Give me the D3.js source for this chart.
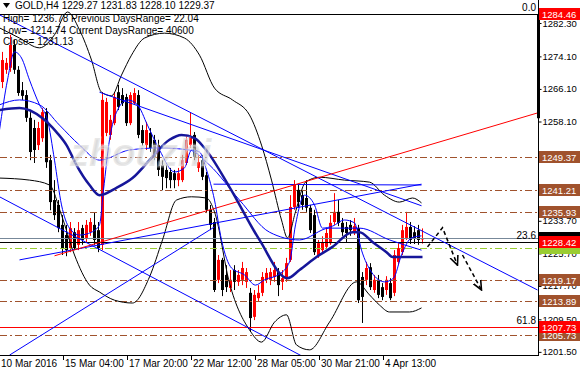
<!DOCTYPE html>
<html>
<head>
<meta charset="utf-8">
<script src="https://cdn.jsdelivr.net/npm/d3@7"></script>
<style>
  body { margin: 0; background: #fff; }
  svg { display: block; font-family: "Liberation Sans", Arial, sans-serif; }
</style>
</head>
<body>
<svg id="chart" width="580" height="376"></svg>
<script>
// ---- data (GOLD, H4) ----
const opens = [1267.8,1270.8,1271.3,1276.9,1270.8,1265.8,1264.6,1259.0,1256.5,1252.3,
  1254.0,1260.4,1248.6,1238.8,1237.6,1232.7,1230.2,1227.0,1230.9,1227.8,
  1231.9,1229.5,1230.9,1232.7,1231.4,1227.8,1255.3,1254.8,1257.7,1265.3,
  1264.6,1264.1,1257.7,1262.6,1264.6,1256.0,1252.3,1255.3,1253.6,1252.3,
  1247.4,1246.2,1245.7,1245.4,1243.7,1243.7,1247.9,1252.3,1254.8,1246.7,
  1248.6,1244.9,1236.4,1233.4,1219.2,1224.1,1220.4,1217.2,1221.6,1218.7,
  1219.2,1218.7,1216.0,1210.1,1214.7,1216.0,1219.2,1219.2,1219.9,1221.1,
  1218.7,1219.6,1224.1,1237.1,1241.3,1240.0,1239.3,1236.9,1235.1,1225.3,
  1226.5,1227.3,1228.2,1233.4,1235.9,1233.2,1232.2,1232.7,1230.9,1231.9,
  1219.9,1219.2,1222.3,1216.7,1219.2,1217.4,1216.7,1218.4,1216.0,1223.6,
  1226.0,1229.5,1232.2,1230.9,1231.4,1229.27];
const highs = [1275.2,1273.7,1279.4,1278.1,1271.7,1267.8,1265.8,1260.4,1258.5,1258.0,
  1261.4,1261.4,1249.9,1243.7,1238.8,1235.1,1232.7,1233.4,1231.9,1233.4,
  1232.7,1233.9,1234.4,1235.8,1233.4,1265.3,1263.9,1259.7,1265.3,1267.1,
  1266.3,1264.9,1265.3,1266.3,1265.8,1257.2,1258.0,1256.5,1254.8,1253.6,
  1248.6,1247.4,1246.7,1246.2,1246.7,1249.9,1254.8,1260.4,1255.5,1249.9,
  1249.9,1245.7,1237.6,1234.4,1225.3,1224.6,1222.8,1221.6,1222.8,1221.6,
  1223.6,1222.1,1217.2,1216.7,1217.9,1221.1,1222.1,1222.1,1223.6,1222.1,
  1221.6,1224.6,1240.0,1243.7,1242.5,1241.3,1243.7,1237.6,1236.4,1229.0,
  1229.9,1231.9,1235.1,1240.5,1238.8,1234.4,1233.4,1233.9,1234.4,1232.7,
  1221.1,1223.6,1223.3,1220.4,1220.4,1218.4,1220.1,1219.6,1226.5,1228.2,
  1232.7,1235.9,1233.4,1232.4,1232.7,1231.83];
const lows = [1266.3,1269.8,1270.3,1269.8,1264.4,1263.4,1258.0,1248.6,1247.9,1251.1,
  1253.1,1246.7,1236.3,1233.9,1230.9,1225.3,1225.0,1226.0,1226.5,1226.5,
  1227.8,1228.5,1230.0,1227.8,1226.0,1226.5,1254.5,1253.6,1257.2,1260.9,
  1261.9,1257.0,1257.2,1262.2,1254.0,1252.1,1251.1,1250.6,1248.6,1244.7,
  1241.2,1241.7,1241.7,1241.7,1242.2,1243.2,1247.4,1251.6,1248.6,1245.7,
  1243.7,1235.6,1231.4,1216.2,1218.4,1215.2,1216.2,1216.2,1216.7,1217.7,
  1217.9,1217.2,1206.4,1209.3,1213.8,1215.2,1218.4,1217.9,1218.7,1215.2,
  1216.7,1218.7,1223.6,1236.4,1236.9,1236.4,1235.9,1230.7,1225.3,1224.6,
  1225.8,1226.8,1227.8,1232.7,1232.4,1230.0,1228.5,1230.0,1230.2,1213.5,
  1208.6,1217.9,1216.7,1216.0,1214.7,1214.2,1215.5,1214.2,1215.2,1222.8,
  1225.3,1229.0,1228.0,1228.0,1227.8,1228.10];
const closes = [1273.2,1272.5,1276.9,1270.8,1265.1,1264.4,1259.0,1250.6,1251.1,1256.5,
  1260.4,1248.1,1238.3,1235.1,1231.9,1227.0,1226.5,1231.9,1227.0,1231.4,
  1229.0,1232.7,1233.4,1229.0,1227.0,1263.4,1262.9,1258.5,1264.1,1261.7,
  1262.6,1257.7,1264.6,1265.1,1254.8,1252.8,1256.0,1251.6,1249.4,1246.2,
  1244.5,1244.2,1243.7,1243.7,1245.4,1248.6,1253.6,1254.3,1249.4,1248.1,
  1244.5,1236.4,1232.7,1216.7,1224.1,1216.7,1217.4,1219.2,1218.7,1220.4,
  1222.1,1221.1,1209.8,1215.5,1216.0,1219.9,1220.9,1221.1,1221.6,1217.9,
  1219.6,1223.3,1237.1,1242.5,1238.3,1237.6,1236.9,1231.4,1226.0,1228.2,
  1228.5,1230.7,1233.2,1235.9,1233.2,1230.9,1230.7,1231.4,1232.4,1214.2,
  1215.0,1222.1,1217.4,1219.2,1215.5,1215.0,1219.2,1214.7,1225.3,1227.0,
  1231.4,1232.2,1229.0,1229.5,1229.0,1229.37];

const xTickBars = [0, 16, 32, 48, 64, 80, 96];
const xTickLabels = ["10 Mar 2016", "15 Mar 04:00", "17 Mar 20:00", "22 Mar 12:00",
  "28 Mar 05:00", "30 Mar 21:00", "4 Apr 13:00"];
const yTickValues = [1282.30, 1274.10, 1266.10, 1258.10, 1233.70, 1225.70, 1217.70, 1209.50, 1201.50];

// horizontal objects
const levelPrices = [1249.37, 1241.21, 1235.93, 1219.17, 1213.89, 1205.73];
const fibPrices = [1284.46, 1228.42, 1207.73];
const fibNames = ["0.0", "23.6", "61.8"];
const bidPrice = 1229.37;
const greenPrice = 1227.00;

// indicators, [bar, price] read at sample bars
const bbUpper = [[-0.5,1281.1],[4.5,1278.6],[9.5,1276.2],[13.25,1279.4],[16.5,1285.0],[19.5,1280.6],
  [22.5,1273.2],[25,1265.3],[27.5,1264.4],[30,1269.5],[32.5,1274.4],[35.75,1278.6],[40.75,1279.8],
  [45.75,1278.6],[49.5,1274.4],[53.25,1266.3],[57.75,1263.4],[62,1259.7],[65,1252.3],[67.5,1243.7],
  [70,1233.9],[71.5,1229.5],[73.5,1235.9],[76,1243.2],[79.5,1244.4],[85.75,1243.7],[92,1243.2],
  [95.75,1240.0],[99.5,1238.3],[102.75,1239.3],[105,1238.1]];
const bbLower = [[-0.5,1244.2],[7,1243.7],[12,1242.5],[15,1235.1],[18.25,1225.3],[22,1217.9],
  [24.5,1216.2],[28.25,1214.2],[32.75,1213.5],[37,1219.9],[40.25,1229.0],[43.75,1238.8],[47.5,1239.6],
  [51.25,1239.3],[53.25,1235.9],[57,1218.4],[62,1206.9],[65,1203.9],[68.25,1208.8],[71.25,1210.6],
  [73.75,1203.2],[77,1202.0],[82,1208.8],[88.75,1218.7],[92,1215.5],[94.5,1213.0],[97,1211.3],
  [102,1211.3],[105,1212.3]];
const maSlow = [[-0.5,1260.9],[4.5,1261.4],[10.25,1258.9],[13.75,1255.5],[16.25,1252.3],[18.75,1247.4],
  [22,1242.5],[24.5,1240.0],[28.75,1241.8],[32.75,1244.2],[37,1248.6],[42,1253.6],[45,1254.8],
  [48.25,1254.0],[50.75,1251.6],[57,1242.0],[64.5,1229.0],[71.5,1219.6],[74.5,1221.6],[78.75,1224.8],
  [82.75,1227.3],[87.75,1230.9],[89.5,1230.9],[92.75,1228.5],[96.25,1226.0],[97.75,1224.8],[105.25,1224.8]];
const maMid = [[-0.5,1262.2],[4.5,1263.4],[9.5,1262.2],[14.5,1257.2],[19.5,1252.3],[24.5,1248.6],
  [32,1251.1],[39.5,1251.6],[47,1251.1],[52,1247.4],[59.5,1238.8],[67,1230.9],[74.5,1229.0],
  [82,1231.9],[89.5,1231.9],[97,1229.0],[105,1226.5]];
const maFast = [[-0.5,1256.0],[1.5,1268.3],[3.25,1275.2],[5,1273.7],[7,1268.3],[9.5,1262.2],[11.5,1258.5],
  [13.25,1248.6],[15,1237.6],[17,1231.9],[19.5,1230.2],[22.5,1230.9],[24.5,1232.7],[25.5,1241.3],
  [27,1253.6],[29,1260.9],[31.5,1263.4],[34,1262.2],[36.5,1257.2],[39.5,1251.1],[43.25,1245.7],
  [45.75,1246.7],[47.5,1251.1],[49.5,1250.6],[51.25,1246.2],[53.25,1238.8],[55,1229.0],[57.5,1222.1],
  [60.75,1220.4],[63.5,1217.9],[65.75,1219.2],[69.5,1220.6],[72,1223.6],[73.5,1232.7],[75.75,1240.0],
  [78.25,1237.6],[80.25,1231.9],[82.75,1232.4],[85.75,1233.9],[88.25,1233.2],[90,1226.5],[92.5,1221.1],
  [95.75,1218.7],[98,1219.6],[100,1225.3],[102.5,1229.5],[105,1230.0]];

// trend lines, [bar, price] end points
const blueTrends = [
  [[-0.5,1284.3],[134,1216.7]],
  [[-0.5,1239.6],[134,1170.0]],
  [[2,1200.7],[53.25,1232.2]],
  [[4.5,1224.1],[105,1242.7]],
  [[24.5,1265.3],[105,1237.4]],
  [[53,1242.7],[105,1242.5]]
];
const redTrend = [[13.25,1225.1],[134,1260.2]];
const arrowPaths = [
  [[106.5,1227.3],[110.25,1232.0],[114,1222.8]],
  [[115.25,1225.3],[120,1216.7]]
];

// ---- drawing ----
const W = 580, H = 376;
const plotW = 538, plotH = 355;
const svg = d3.select('#chart');

const x = d3.scaleLinear().domain([0, 1]).range([1.5, 5.5]);
const y = d3.scaleLinear().domain([1200.73, 1287.95]).range([plotH, 0]);

svg.append('rect').attr('width', W).attr('height', H).attr('fill', '#fff');

svg.append('clipPath').attr('id', 'plotclip')
  .append('rect').attr('width', plotW).attr('height', plotH);

const plot = svg.append('g').attr('clip-path', 'url(#plotclip)');

const bars = opens.map((o, i) => ({i: i, o: o, h: highs[i], l: lows[i], c: closes[i]}));
const colorOf = d => d.c >= d.o ? '#ff0000' : '#000000';

// candles
plot.selectAll('.wick').data(bars).join('line')
  .attr('class', 'wick')
  .attr('x1', d => Math.round(x(d.i)) + 0.5)
  .attr('x2', d => Math.round(x(d.i)) + 0.5)
  .attr('y1', d => y(d.h))
  .attr('y2', d => y(d.l))
  .attr('stroke', colorOf)
  .attr('stroke-width', 1);

plot.selectAll('.body').data(bars).join('rect')
  .attr('class', 'body')
  .attr('x', d => Math.round(x(d.i)) - 1)
  .attr('width', 3)
  .attr('y', d => y(Math.max(d.o, d.c)))
  .attr('height', d => Math.max(1, Math.abs(y(d.o) - y(d.c))))
  .attr('fill', colorOf);

// horizontal levels
plot.selectAll('.level').data(levelPrices).join('line')
  .attr('x1', 0).attr('x2', plotW)
  .attr('y1', d => Math.round(y(d)) + 0.5)
  .attr('y2', d => Math.round(y(d)) + 0.5)
  .attr('stroke', '#a0522d')
  .attr('stroke-dasharray', '7,3,2,3');

plot.append('line')
  .attr('x1', 0).attr('x2', plotW)
  .attr('y1', Math.round(y(bidPrice)) + 0.5).attr('y2', Math.round(y(bidPrice)) + 0.5)
  .attr('stroke', '#778899');

plot.append('line')
  .attr('x1', 0).attr('x2', plotW)
  .attr('y1', Math.round(y(greenPrice)) + 0.5).attr('y2', Math.round(y(greenPrice)) + 0.5)
  .attr('stroke', '#9acd32')
  .attr('stroke-dasharray', '7,3,2,3');

plot.selectAll('.fib').data(fibPrices).join('line')
  .attr('x1', 0).attr('x2', plotW)
  .attr('y1', d => Math.round(y(d)) + 0.5)
  .attr('y2', d => Math.round(y(d)) + 0.5)
  .attr('stroke', (d, i) => i == 2 ? '#ff0000' : '#000000');

// indicator lines
const curve = d3.line().x(d => x(d[0])).y(d => y(d[1])).curve(d3.curveMonotoneX);
const straight = d3.line().x(d => x(d[0])).y(d => y(d[1]));

[bbUpper, bbLower].forEach(pts => {
  plot.append('path').attr('d', curve(pts))
    .attr('fill', 'none').attr('stroke', '#000').attr('stroke-width', 1);
});

plot.selectAll('.trend').data(blueTrends).join('path')
  .attr('d', straight)
  .attr('fill', 'none').attr('stroke', '#0000ff').attr('stroke-width', 1);

plot.append('path').attr('d', straight(redTrend))
  .attr('fill', 'none').attr('stroke', '#ff0000').attr('stroke-width', 1);

[maMid, maFast].forEach(pts => {
  plot.append('path').attr('d', curve(pts))
    .attr('fill', 'none').attr('stroke', '#0000ff').attr('stroke-width', 1);
});

plot.append('path').attr('d', curve(maSlow))
  .attr('fill', 'none').attr('stroke', '#16169a').attr('stroke-width', 2.5);

// projected path
svg.append('defs').append('marker')
  .attr('id', 'arrow').attr('viewBox', '0 0 10 10')
  .attr('refX', 9).attr('refY', 5)
  .attr('markerWidth', 7).attr('markerHeight', 7)
  .attr('orient', 'auto')
  .append('path').attr('d', 'M0,1 L9,5 L0,9').attr('fill', 'none').attr('stroke', '#000').attr('stroke-width', 1.5);

plot.selectAll('.arrow').data(arrowPaths).join('path')
  .attr('d', straight)
  .attr('fill', 'none').attr('stroke', '#000').attr('stroke-width', 1.5)
  .attr('stroke-dasharray', '4,3')
  .attr('marker-end', 'url(#arrow)');

// watermark
plot.append('text')
  .attr('x', 70).attr('y', 166)
  .attr('font-size', 38).attr('font-weight', 'bold').attr('font-style', 'italic')
  .attr('fill', '#c8c8c8').attr('fill-opacity', 0.65)
  .attr('stroke', '#ffffff').attr('stroke-opacity', 0.35).attr('stroke-width', 3)
  .text('zhouzhi');

// fib labels
svg.selectAll('.fibname').data(fibNames).join('text')
  .attr('x', plotW - 2).attr('y', (d, i) => y(fibPrices[i]) - 3)
  .attr('text-anchor', 'end').attr('font-size', 10).attr('fill', '#000')
  .text(d => d);

// axes frame
svg.append('line').attr('x1', plotW + 0.5).attr('x2', plotW + 0.5).attr('y1', 0).attr('y2', plotH + 1)
  .attr('stroke', '#000');
svg.append('line').attr('x1', plotW + 0.5).attr('x2', plotW + 0.5).attr('y1', y(fibPrices[0])).attr('y2', y(1258.9))
  .attr('stroke', '#000').attr('stroke-width', 3);
svg.append('line').attr('x1', 0).attr('x2', plotW + 1).attr('y1', plotH + 0.5).attr('y2', plotH + 0.5)
  .attr('stroke', '#000');

// right price axis
const yAxis = d3.axisRight(y).tickValues(yTickValues).tickSize(3).tickPadding(1)
  .tickFormat(d => d.toFixed(2));
svg.append('g').attr('transform', `translate(${plotW + 0.5},0)`)
  .call(yAxis)
  .call(g => g.select('.domain').remove())
  .call(g => g.selectAll('text').attr('font-size', 9.5).attr('font-family', '"Liberation Sans", Arial, sans-serif').attr('fill', '#000'));

// bottom time axis
const xAxisG = svg.append('g');
xAxisG.selectAll('.xt').data(xTickBars).join('line')
  .attr('x1', d => Math.round(x(d)) - 2.5).attr('x2', d => Math.round(x(d)) - 2.5)
  .attr('y1', plotH).attr('y2', plotH + 5).attr('stroke', '#000');
xAxisG.selectAll('.xl').data(xTickBars).join('text')
  .attr('x', d => Math.round(x(d)) - 1)
  .attr('y', plotH + 12)
  .attr('font-size', 10).attr('fill', '#000')
  .text((d, i) => xTickLabels[i]);

// price tags on the right
function priceTag(price, fill, withText) {
  const g = svg.append('g').attr('transform', `translate(${plotW + 1},${Math.round(y(price)) - 6})`);
  g.append('rect').attr('width', 41).attr('height', 12).attr('fill', fill);
  if (withText) {
    g.append('text').attr('x', 3).attr('y', 10).attr('font-size', 9.5).attr('fill', '#fff')
      .text(price.toFixed(2));
  }
}
levelPrices.forEach(p => priceTag(p, '#a0522d', true));
priceTag(bidPrice, '#000000', false);
priceTag(greenPrice, '#9acd32', false);
fibPrices.forEach(p => priceTag(p, '#ff0000', true));

// header texts
svg.append('path').attr('d', 'M3,3 L10,3 L6.5,8 Z').attr('fill', '#000');
svg.append('text').attr('x', 15).attr('y', 9).attr('font-size', 10).attr('fill', '#000')
  .text('GOLD,H4  1229.27 1231.83 1228.10 1229.37');
const info = ['High= 1236.78 Previous DaysRange= 22.04', 'Low= 1214.74 Current DaysRange= 40600', 'Close= 1231.13'];
svg.selectAll('.info').data(info).join('text')
  .attr('x', 3).attr('y', (d, i) => 22 + i * 11.5)
  .attr('font-size', 10).attr('fill', '#000')
  .text(d => d);
</script>
</body>
</html>
